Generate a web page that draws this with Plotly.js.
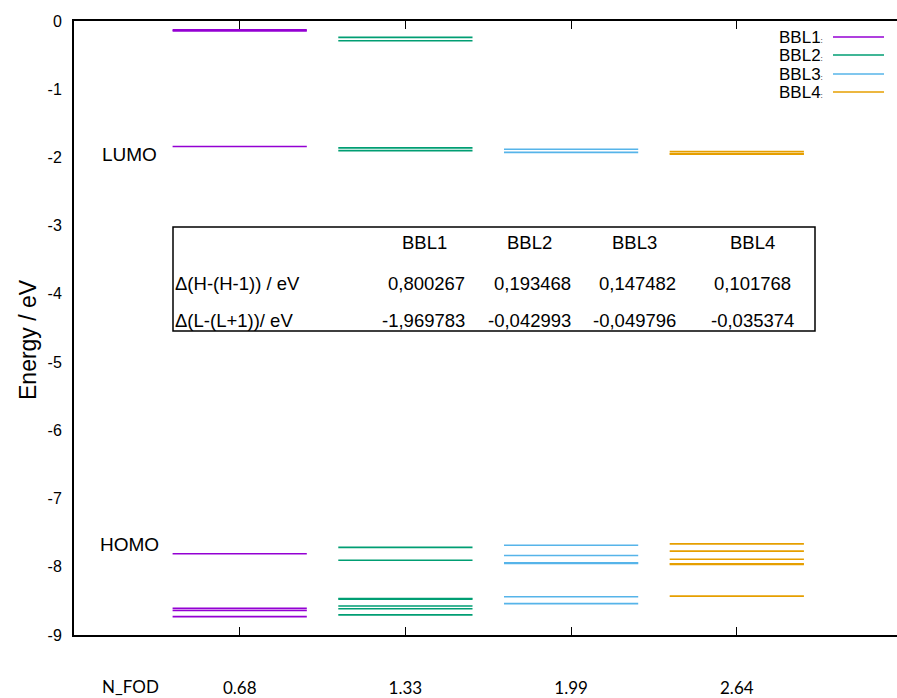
<!DOCTYPE html>
<html>
<head>
<meta charset="utf-8">
<script src="https://cdn.plot.ly/plotly-3.0.1.min.js"></script>
<style>html,body{margin:0;padding:0;background:#fff;}#chart{width:897px;height:698px;}</style>
</head>
<body>
<div id="chart"></div>
<script>
// ---- data ----
const seriesNames = ['BBL1', 'BBL2', 'BBL3', 'BBL4'];
const seriesColors = ['#9400d3', '#009e73', '#56b4e9', '#e69f00'];
const nfodPositions = [1, 2, 3, 4];
const nfodLabels = ['0.68', '1.33', '1.99', '2.64'];
const nfodTitle = 'N_FOD';
const energyTicks = [0, -1, -2, -3, -4, -5, -6, -7, -8, -9];
const energyTickLabels = ['0', '-1', '-2', '-3', '-4', '-5', '-6', '-7', '-8', '-9'];
const bbl1Levels = [-0.13, -0.145, -1.84, -7.81, -8.61, -8.64, -8.73];
const bbl2Levels = [-0.24, -0.29, -1.86, -1.90, -7.715, -7.905, -8.465, -8.475, -8.575, -8.615, -8.705];
const bbl3Levels = [-1.88, -1.925, -7.685, -7.835, -7.94, -7.95, -8.44, -8.54];
const bbl4Levels = [-1.915, -1.945, -1.952, -7.665, -7.77, -7.89, -7.955, -7.965, -8.43];
const levelLabels = ['LUMO', 'HOMO'];
const levelLabelValues = [-1.96, -7.68];
const tableRowLabels = ['\u0394(H-(H-1)) / eV', '\u0394(L-(L+1))/ eV'];
const deltaHomo = ['0,800267', '0,193468', '0,147482', '0,101768'];
const deltaLumo = ['-1,969783', '-0,042993', '-0,049796', '-0,035374'];

// ---- build ----
const allLevels = [bbl1Levels, bbl2Levels, bbl3Levels, bbl4Levels];
const halfWidth = 0.405;
const traces = allLevels.map((lv, i) => {
  const xs = [], ys = [];
  lv.forEach(v => {
    xs.push(nfodPositions[i] - halfWidth, nfodPositions[i] + halfWidth, null);
    ys.push(v, v, null);
  });
  return {x: xs, y: ys, type: 'scatter', mode: 'lines', name: seriesNames[i],
          line: {color: seriesColors[i], width: 1.6}, showlegend: false, hoverinfo: 'skip'};
});

// pixel -> paper helpers (plot area 74..897, 21..635)
const L = 74, R = 897, T = 21, B = 635;
const px = x => (x - L) / (R - L);
const py = y => 1 - (y - T) / (B - T);

const arial = '"Liberation Sans", Arial, sans-serif';
const annotations = [];
const shapes = [];

// y axis title
annotations.push({text: 'Energy / eV', xref: 'paper', yref: 'paper', x: px(28), y: py(340), textangle: -90,
  showarrow: false, xanchor: 'center', yanchor: 'middle', font: {family: arial, size: 23, color: '#000'}});

// N_FOD label
annotations.push({text: nfodTitle, xref: 'paper', yref: 'paper', x: px(130), y: py(686),
  showarrow: false, xanchor: 'center', yanchor: 'middle', font: {family: 'Lato, sans-serif', size: 17, color: '#000'}});

// LUMO/HOMO labels
levelLabels.forEach((t, i) => annotations.push({text: t, xref: 'x', yref: 'y', x: 0.335, y: levelLabelValues[i],
  showarrow: false, xanchor: 'center', yanchor: 'middle', font: {family: arial, size: 19, color: '#000'}}));

// custom legend (text then line, gnuplot style)
const legY = [37, 55, 74, 92];
seriesNames.forEach((n, i) => {
  annotations.push({text: n + '<span style="font-size:8px">:</span>', xref: 'paper', yref: 'paper', x: px(825), y: py(legY[i]),
    showarrow: false, xanchor: 'right', yanchor: 'middle', font: {family: arial, size: 17, color: '#000'}});
  shapes.push({type: 'line', xref: 'paper', yref: 'paper', x0: px(833), x1: px(884), y0: py(legY[i]), y1: py(legY[i]),
    line: {color: seriesColors[i], width: 1.6}});
});

// table
shapes.push({type: 'rect', xref: 'paper', yref: 'paper', x0: px(173), x1: px(815), y0: py(227), y1: py(331),
  line: {color: '#000', width: 1.5}, fillcolor: 'rgba(255,255,255,1)', layer: 'below'});
const headX = [424, 529, 634, 752];
const valX = [467, 573, 678, 752];
const valAnchor = ['right', 'right', 'right', 'center'];
const tfont = {family: arial, size: 18.5, color: '#000'};
seriesNames.forEach((n, i) => annotations.push({text: n, xref: 'paper', yref: 'paper', x: px(headX[i]), y: py(243),
  showarrow: false, xanchor: 'center', yanchor: 'middle', font: tfont}));
tableRowLabels.forEach((t, r) => annotations.push({text: t, xref: 'paper', yref: 'paper', x: px(173), y: py(r === 0 ? 283 : 320),
  showarrow: false, xanchor: 'left', yanchor: 'middle', font: tfont}));
[deltaHomo, deltaLumo].forEach((row, r) => row.forEach((v, i) => annotations.push({text: v, xref: 'paper', yref: 'paper',
  x: px(valX[i]), y: py(r === 0 ? 283 : 320), showarrow: false, xanchor: valAnchor[i], yanchor: 'middle', font: tfont})));

const layout = {
  width: 897, height: 698,
  margin: {l: L, r: 0, t: T, b: 698 - B},
  paper_bgcolor: '#fff', plot_bgcolor: '#fff',
  showlegend: false,
  xaxis: {range: [0, (R - L) / 165.7], tickvals: nfodPositions, ticktext: nfodLabels,
    ticks: 'inside', ticklen: 8, tickcolor: '#000', tickwidth: 1,
    showline: true, linecolor: '#000', linewidth: 1.6, mirror: 'ticks',
    showgrid: false, zeroline: false, ticklabelstandoff: 37,
    tickfont: {family: 'Lato, sans-serif', size: 17, color: '#000'}},
  yaxis: {range: [-9, 0], tickvals: energyTicks, ticktext: energyTickLabels, ticks: '',
    showline: true, linecolor: '#000', linewidth: 2,
    showgrid: false, zeroline: false, ticklabelstandoff: 7,
    tickfont: {family: arial, size: 16, color: '#000'}},
  annotations: annotations,
  shapes: shapes
};

Plotly.newPlot('chart', traces, layout, {staticPlot: true, displayModeBar: false});
</script>
</body>
</html>
